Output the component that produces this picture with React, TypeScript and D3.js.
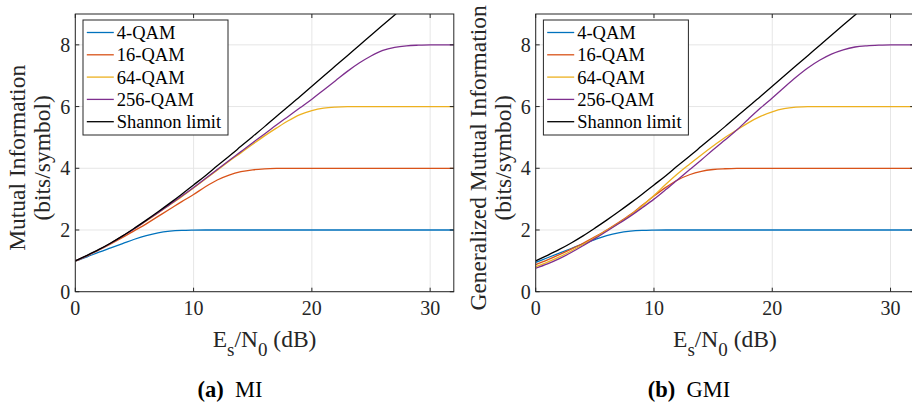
import React from "react";
import * as d3 from "d3";

// Es/N0 grid in dB
const snrDb = [0, 1, 2, 3, 4, 5, 6, 7, 8, 9, 10, 11, 12, 13, 14, 15, 16, 17, 18, 19, 20, 21, 22, 23, 24, 25, 26, 27, 28, 29, 30, 31, 32];

const shannon = [1.0, 1.18, 1.37, 1.58, 1.81, 2.06, 2.32, 2.59, 2.87, 3.16, 3.46, 3.76, 4.08, 4.39, 4.71, 5.03, 5.35, 5.68, 6.0, 6.33, 6.66, 6.99, 7.32, 7.65, 7.98, 8.31, 8.64, 8.97, 9.3, 9.63, 9.97, 10.3, 10.63];

// (a) MI
const mi4 = [0.99, 1.13, 1.28, 1.42, 1.56, 1.7, 1.82, 1.91, 1.96, 1.985, 1.995, 2, 2, 2, 2, 2, 2, 2, 2, 2, 2, 2, 2, 2, 2, 2, 2, 2, 2, 2, 2, 2, 2];
const mi16 = [0.99, 1.16, 1.35, 1.55, 1.76, 1.98, 2.2, 2.44, 2.68, 2.92, 3.15, 3.4, 3.62, 3.78, 3.89, 3.95, 3.98, 3.995, 4, 4, 4, 4, 4, 4, 4, 4, 4, 4, 4, 4, 4, 4, 4];
const mi64 = [1.0, 1.17, 1.36, 1.57, 1.8, 2.04, 2.29, 2.55, 2.82, 3.08, 3.36, 3.65, 3.94, 4.23, 4.5, 4.78, 5.05, 5.3, 5.54, 5.74, 5.87, 5.95, 5.985, 6, 6, 6, 6, 6, 6, 6, 6, 6, 6];
const mi256 = [1.0, 1.17, 1.36, 1.57, 1.8, 2.04, 2.3, 2.56, 2.83, 3.1, 3.38, 3.67, 3.96, 4.25, 4.54, 4.83, 5.11, 5.4, 5.68, 5.96, 6.24, 6.54, 6.84, 7.14, 7.41, 7.64, 7.82, 7.92, 7.97, 7.99, 8, 8, 8];

// (b) GMI
const gmi4 = [0.95, 1.1, 1.25, 1.4, 1.55, 1.69, 1.82, 1.91, 1.96, 1.985, 1.995, 2, 2, 2, 2, 2, 2, 2, 2, 2, 2, 2, 2, 2, 2, 2, 2, 2, 2, 2, 2, 2, 2];
const gmi16 = [0.875, 1.03, 1.2, 1.38, 1.57, 1.78, 2.0, 2.24, 2.5, 2.8, 3.1, 3.38, 3.62, 3.79, 3.9, 3.96, 3.985, 3.998, 4, 4, 4, 4, 4, 4, 4, 4, 4, 4, 4, 4, 4, 4, 4];
const gmi64 = [0.81, 0.96, 1.13, 1.32, 1.53, 1.75, 1.98, 2.22, 2.48, 2.78, 3.12, 3.48, 3.82, 4.13, 4.43, 4.72, 5.0, 5.24, 5.48, 5.68, 5.83, 5.93, 5.98, 6, 6, 6, 6, 6, 6, 6, 6, 6, 6];
const gmi256 = [0.76, 0.9, 1.07, 1.27, 1.49, 1.72, 1.96, 2.2, 2.45, 2.72, 3.0, 3.31, 3.63, 3.95, 4.27, 4.6, 4.92, 5.24, 5.6, 5.95, 6.28, 6.62, 6.95, 7.25, 7.5, 7.7, 7.84, 7.93, 7.97, 7.99, 8, 8, 8];

const seriesNames = ["4-QAM", "16-QAM", "64-QAM", "256-QAM", "Shannon limit"];
const seriesColors = ["#0072BD", "#D95319", "#EDB120", "#7E2F8E", "#000000"];

const xTicks = [0, 10, 20, 30];
const yTicks = [0, 2, 4, 6, 8];

const FONT = "Liberation Serif, Times New Roman, DejaVu Serif, serif";
const AX = "#262626";

const PW = 378.5;
const TOP = 14;
const BOTTOM = 291.7;

function Panel({ left, curves, ylabel, tag, title, capX }) {
  const x = d3.scaleLinear().domain([0, 32]).range([left, left + PW]);
  const y = d3.scaleLinear().domain([0, 9]).range([BOTTOM, TOP]);
  const line = d3.line().x((d) => x(d[0])).y((d) => y(d[1])).curve(d3.curveMonotoneX);
  const clipId = `clip-${tag}`;
  const cx = left + PW / 2;

  return (
    <g style={{ fontFamily: FONT }} fill="#262626">
      <defs>
        <clipPath id={clipId}>
          <rect x={left} y={TOP} width={PW} height={BOTTOM - TOP} />
        </clipPath>
      </defs>
      <rect x={left} y={TOP} width={PW} height={BOTTOM - TOP} fill="white" />
      {xTicks.map((t) => (
        <line key={"gx" + t} x1={x(t)} x2={x(t)} y1={TOP} y2={BOTTOM} stroke="#e6e6e6" strokeWidth={1} />
      ))}
      {yTicks.map((t) => (
        <line key={"gy" + t} x1={left} x2={left + PW} y1={y(t)} y2={y(t)} stroke="#e6e6e6" strokeWidth={1} />
      ))}
      <g clipPath={`url(#${clipId})`}>
        {curves.map((c, i) => (
          <path
            key={i}
            d={line(snrDb.map((s, j) => [s, c[j]]))}
            fill="none"
            stroke={seriesColors[i]}
            strokeWidth={1.3}
          />
        ))}
      </g>
      {/* box + inward ticks */}
      <rect x={left} y={TOP} width={PW} height={BOTTOM - TOP} fill="none" stroke={AX} strokeWidth={1} />
      {xTicks.map((t) => (
        <g key={"tx" + t}>
          <line x1={x(t)} x2={x(t)} y1={BOTTOM} y2={BOTTOM - 4} stroke={AX} />
          <line x1={x(t)} x2={x(t)} y1={TOP} y2={TOP + 4} stroke={AX} />
          <text x={x(t)} y={BOTTOM + 23.5} textAnchor="middle" fontSize={20}>{t}</text>
        </g>
      ))}
      {yTicks.map((t) => (
        <g key={"ty" + t}>
          <line x1={left} x2={left + 4} y1={y(t)} y2={y(t)} stroke={AX} />
          <line x1={left + PW} x2={left + PW - 4} y1={y(t)} y2={y(t)} stroke={AX} />
          <text x={left - 5} y={y(t)} dy="0.35em" textAnchor="end" fontSize={20}>{t}</text>
        </g>
      ))}
      {/* y label */}
      <text transform={`translate(${left - 50},${(TOP + BOTTOM) / 2 + 5}) rotate(-90)`} textAnchor="middle" fontSize={23.5}>
        {ylabel}
      </text>
      <text transform={`translate(${left - 25},${(TOP + BOTTOM) / 2 + 5}) rotate(-90)`} textAnchor="middle" fontSize={23.5}>
        (bits/symbol)
      </text>
      {/* x label */}
      <text x={cx} y={346.5} textAnchor="middle" fontSize={23.5}>
        E<tspan fontSize={19} dy={9}>s</tspan>
        <tspan dy={-9}>/N</tspan>
        <tspan fontSize={19} dy={9}>0</tspan>
        <tspan dy={-9}>{"\u00a0(dB)"}</tspan>
      </text>
      {/* legend */}
      <rect x={left + 7.7} y={20} width={145} height={115} fill="white" stroke={AX} strokeWidth={1} />
      {seriesNames.map((n, i) => (
        <g key={n} transform={`translate(${left + 11.5},${32.5 + i * 22.3})`}>
          <line x1={0} x2={27} y1={0} y2={0} stroke={seriesColors[i]} strokeWidth={1.3} />
          <text x={30} y={0} dy="0.35em" fontSize={18.5} fill="#000">{n}</text>
        </g>
      ))}
      {/* caption */}
      <text x={capX} y={397} textAnchor="middle" fontSize={22.5} fill="#000">
        <tspan fontWeight="bold">({tag})</tspan>
        <tspan>{"\u00a0\u00a0" + title}</tspan>
      </text>
    </g>
  );
}

export default function App() {
  return (
    <svg
      width={912}
      height={407}
      style={{ position: "absolute", left: 0, top: 0, background: "white", fontFamily: FONT }}
    >
      <rect width={912} height={407} fill="white" />
      <Panel
        left={75.3}
        curves={[mi4, mi16, mi64, mi256, shannon]}
        ylabel="Mutual Information"
        tag="a"
        title="MI"
        capX={230}
      />
      <Panel
        left={535.7}
        curves={[gmi4, gmi16, gmi64, gmi256, shannon]}
        ylabel="Generalized Mutual Information"
        tag="b"
        title="GMI"
        capX={689}
      />
    </svg>
  );
}
